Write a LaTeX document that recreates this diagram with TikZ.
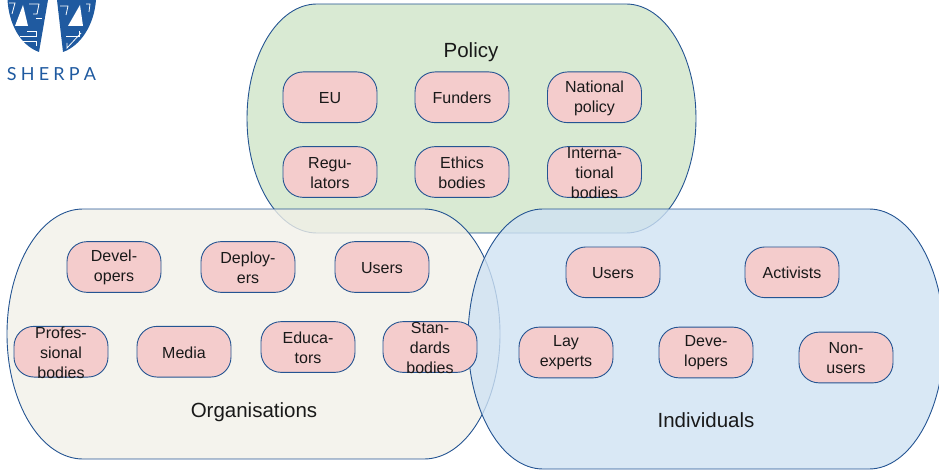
\documentclass[tikz,border=0pt]{standalone}
\usepackage{fontspec}
\setmainfont{Liberation Sans}
\newfontfamily\logofont{Lato}
\definecolor{edgeblue}{HTML}{245492}
\definecolor{pinkfill}{HTML}{F4CCCC}
\definecolor{polfill}{HTML}{D9EAD3}
\definecolor{orgfill}{HTML}{F1F0E8}
\definecolor{indfill}{HTML}{CFE2F3}
\definecolor{logoblue}{HTML}{1F5AA0}
\tikzset{
  stake/.style={draw=edgeblue,line width=0.9pt,fill=pinkfill,rounded corners=20pt,minimum width=94pt,minimum height=50.7pt,inner sep=0pt,
    label={[inner sep=0pt,align=center,text=black!90,font=\fontsize{16}{20}\selectfont,yshift=-0.6pt]center:{#1}}},
  area/.style={draw=edgeblue,line width=0.9pt},
  title/.style={font=\fontsize{20.5}{24}\selectfont,text=black!90,inner sep=0pt},
  logowire/.style={draw=white,line width=0.8pt}
}
\begin{document}
\begin{tikzpicture}[x=1pt,y=-1pt]
\useasboundingbox (0,0) rectangle (939,473);
% logo
\fill[logoblue] (7.5,0) .. controls (9,24) and (20,45) .. (39,52) -- (48,0) -- cycle;
\fill[logoblue] (57,0) -- (63,52) .. controls (80,46) and (94,26) .. (96,0) -- cycle;
\fill[white] (15,26) -- (28,26) -- (23,5) -- cycle;
\fill[white] (68,26) -- (83,26) -- (80,5) -- cycle;
\draw[logowire] (9,3) -- (15,3) -- (12,14);
\draw[logowire] (29,4) -- (39,4) -- (37,14) -- (33,14);
\draw[logowire] (36,18) -- (42,18);
\draw[logowire] (20,36) -- (36,36) -- (36,31) -- (27,31);
\draw[logowire] (23,41) -- (36,41) -- (36,46);
\draw[logowire] (86,4) -- (90,4) -- (89,12);
\draw[logowire] (66,36) -- (79,36) -- (79,31);
\draw[logowire] (67,43) -- (67,48) -- (81,33);
\draw[logowire] (60,6) -- (68,6) -- (66,15);
\node[inner sep=0pt,text=logoblue,font=\logofont\fontsize{18}{20}\selectfont] (logotext) at (51.5,74) {S\hspace{4.2pt}H\hspace{4.2pt}E\hspace{4.2pt}R\hspace{4.2pt}P\hspace{4.2pt}A};
% regions
\draw[area,fill=polfill] (317,4) -- (626,4) .. controls (665,4) and (696,55.5) .. (696,118.5) .. controls (696,181.5) and (665,233) .. (626,233) -- (317,233) .. controls (278,233) and (247,181.5) .. (247,118.5) .. controls (247,55.5) and (278,4) .. (317,4) -- cycle;
\draw[area,fill=orgfill,fill opacity=0.8] (83,209) -- (424,209) .. controls (466,209) and (500,265) .. (500,334) .. controls (500,403) and (466,459) .. (424,459) -- (83,459) .. controls (41,459) and (7,403) .. (7,334) .. controls (7,265) and (41,209) .. (83,209) -- cycle;
\draw[area,fill=indfill,fill opacity=0.8] (543,209) -- (869,209) .. controls (910,209) and (944,267) .. (944,339) .. controls (944,411) and (910,469) .. (869,469) -- (543,469) .. controls (502,469) and (468,411) .. (468,339) .. controls (468,267) and (502,209) .. (543,209) -- cycle;
% titles
\node[title] (policy) at (471,52.5) {Policy};
\node[title] (orgs) at (254,412.5) {Organisations};
\node[title] (inds) at (706,420.5) {Individuals};
% stakeholder nodes
\node[stake={EU}] (eu) at (330,97.3) {};
\node[stake={Funders}] (funders) at (462,97.3) {};
\node[stake={National\\policy}] (natpol) at (594.5,97.3) {};
\node[stake={Regu-\\lators}] (reg) at (330,172) {};
\node[stake={Ethics\\bodies}] (ethics) at (462,172) {};
\node[stake={Interna-\\tional\\bodies}] (intl) at (594.5,172) {};
\node[stake={Devel-\\opers}] (dev) at (114,267) {};
\node[stake={Deploy-\\ers}] (depl) at (248,267) {};
\node[stake={Users}] (ousers) at (382,267) {};
\node[stake={Profes-\\sional\\bodies}] (prof) at (61,351.7) {};
\node[stake={Media}] (media) at (184,351.7) {};
\node[stake={Educa-\\tors}] (edu) at (308,347) {};
\node[stake={Stan-\\dards\\bodies}] (stan) at (430,347) {};
\node[stake={Users}] (iusers) at (613,272.3) {};
\node[stake={Activists}] (activ) at (792,272.3) {};
\node[stake={Lay\\experts}] (lay) at (566,352.5) {};
\node[stake={Deve-\\lopers}] (ideve) at (706,352.5) {};
\node[stake={Non-\\users}] (non) at (846,357.5) {};
\end{tikzpicture}
\end{document}
